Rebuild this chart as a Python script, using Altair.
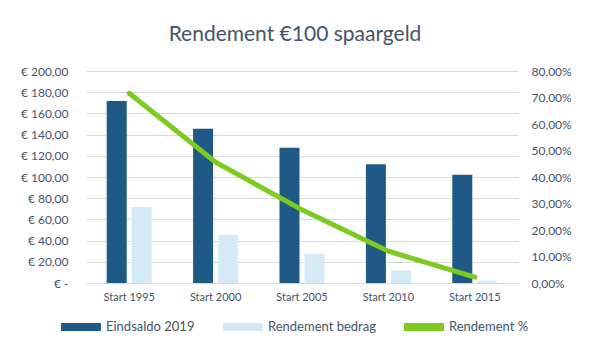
import altair as alt
import pandas as pd

categories = ["Start 1995", "Start 2000", "Start 2005", "Start 2010", "Start 2015"]
eindsaldo = [171.6, 145.6, 127.6, 112.0, 102.2]
rendement_bedrag = [71.6, 45.6, 27.6, 12.0, 2.2]
rendement_pct = [0.716, 0.456, 0.276, 0.120, 0.022]
series = ["Eindsaldo 2019", "Rendement bedrag", "Rendement %"]
colors = ["#1F5A86", "#D5EAF7", "#7CCB1F"]
left_ticks = [0, 20, 40, 60, 80, 100, 120, 140, 160, 180, 200]
right_ticks = [0, 0.1, 0.2, 0.3, 0.4, 0.5, 0.6, 0.7, 0.8]

TXT = "#44546A"
FONT = "Lato"

bars_df = pd.DataFrame({
    "cat": categories * 2,
    "series": [series[0]] * len(categories) + [series[1]] * len(categories),
    "value": eindsaldo + rendement_bedrag,
})
line_df = pd.DataFrame({"cat": categories, "series": series[2], "value": rendement_pct})

color = alt.Color(
    "series:N",
    scale=alt.Scale(domain=series, range=colors),
    legend=alt.Legend(
        title=None,
        orient="none",
        legendX=-25,
        legendY=236,
        direction="horizontal",
        symbolType="M-1,-0.2H1V0.2H-1Z",
        symbolSize=1600,
        symbolStrokeWidth=0,
        symbolOpacity=1,
        columnPadding=28,
        labelOffset=5,
        labelFontSize=13,
        labelColor=TXT,
        labelFont=FONT,
    ),
)

xenc = alt.X(
    "cat:N",
    sort=categories,
    scale=alt.Scale(paddingInner=0.479, paddingOuter=0.2395),
    axis=alt.Axis(title=None, labelAngle=0, ticks=False, domainColor="#D9D9D9",
                  labelColor=TXT, labelFontSize=11, labelFont=FONT, labelPadding=8),
)

bars = alt.Chart(bars_df).mark_bar().encode(
    x=xenc,
    xOffset=alt.XOffset("series:N", sort=series[:2],
                        scale=alt.Scale(paddingInner=0.2, paddingOuter=0)),
    y=alt.Y("value:Q", scale=alt.Scale(domain=[0, 200], nice=False),
            axis=alt.Axis(title=None, values=left_ticks, ticks=False, domain=False,
                          gridColor="#D9D9D9", labelColor=TXT, labelFontSize=12,
                          labelFont=FONT, labelPadding=18,
                          labelExpr="datum.value == 0 ? '€ -' : '€ ' + replace(format(datum.value, '.2f'), '.', ',')")),
    color=color,
)

line = alt.Chart(line_df).mark_line(strokeWidth=5, strokeCap="round").encode(
    x=xenc,
    y=alt.Y("value:Q", scale=alt.Scale(domain=[0, 0.8], nice=False),
            axis=alt.Axis(title=None, orient="right", values=right_ticks, ticks=False,
                          domain=False, grid=False, labelColor=TXT, labelFontSize=12,
                          labelFont=FONT, labelPadding=13,
                          labelExpr="replace(format(datum.value, '.2%'), '.', ',')")),
    color=color,
)

chart = alt.layer(bars, line).resolve_scale(y="independent").properties(
    width=432,
    height=212,
    autosize=alt.AutoSizeParams(type="none"),
    padding={"left": 78, "top": 63, "right": 64, "bottom": 73},
    title=alt.Title("Rendement €100 spaargeld", fontSize=21, color=TXT, font=FONT,
                    fontWeight="normal", anchor="middle", offset=20, dx=-7),
    background="white",
).configure_view(stroke=None)

chart.save("out.html", embed_options={"renderer": "svg", "actions": False})
